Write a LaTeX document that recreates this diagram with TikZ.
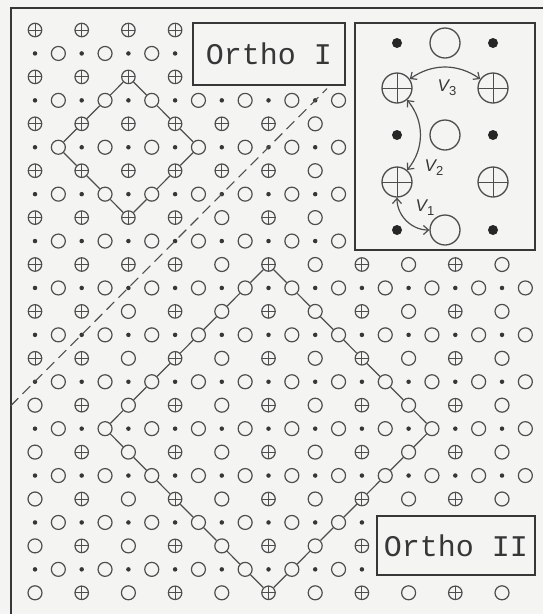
\documentclass[tikz,border=0pt]{standalone}
\usepackage{fontspec}
\usepackage{tikz}
\usetikzlibrary{arrows.meta}
\newfontfamily\monofont{Liberation Mono}
\newfontfamily\labelfont{Liberation Sans}
\definecolor{paper}{RGB}{244,244,242}
\definecolor{ink}{RGB}{78,78,78}
\definecolor{darkink}{RGB}{55,55,55}
\newcommand{\vsub}[1]{V\raisebox{-4pt}{\fontsize{13}{13}\selectfont\upshape #1}}

\begin{document}
\begin{tikzpicture}[
  x=1pt, y=-1pt,
  hole/.style={circle, draw=ink, line width=1.2pt, minimum size=14pt, inner sep=0pt},
  plus/.style={hole, minimum size=13.5pt,
               path picture={\draw[ink, line width=0.9pt]
                 (path picture bounding box.north) -- (path picture bounding box.south)
                 (path picture bounding box.west) -- (path picture bounding box.east);}},
  dot/.style={circle, fill=darkink, minimum size=4.5pt, inner sep=0pt},
  bighole/.style={hole, line width=1.3pt, minimum size=30pt},
  bigplus/.style={plus, line width=1.3pt, minimum size=30pt},
  bigdot/.style={dot, fill=black!85, minimum size=10pt},
  tag/.style={draw=darkink, line width=1.4pt, fill=paper, inner sep=0pt, text=darkink,
              font=\monofont\fontsize{30}{30}\selectfont},
  vlabel/.style={text=darkink, inner sep=0pt, font=\labelfont\itshape\fontsize{17}{17}\selectfont},
  edge/.style={draw=ink, line width=1.2pt},
  arrow/.style={<->, >={Straight Barb[length=5pt,width=9pt]}, draw=ink, line width=1.2pt}
]
\useasboundingbox (0,0) rectangle (543,614);
\fill[paper] (0,0) rectangle (543,614);
\draw[darkink, line width=1.4pt] (11,614) -- (11,8) -- (543,8);

% lattice
\foreach \i in {0,...,21}
  \foreach \j in {0,...,24}{
    \pgfmathtruncatemacro\hide{(\j<3 && \i>6 && \i<14) || (\j<10 && \i>13) || (\j>20 && \j<24 && \i>14)}
    \ifnum\hide=0
      \ifodd\j
        \ifodd\i \node[hole] (s-\i-\j) at ({35+23.35*\i},{30+23.45*\j}) {};
        \else \node[dot] (s-\i-\j) at ({35+23.35*\i},{30+23.45*\j}) {};
        \fi
      \else
        \ifodd\i\else
          \pgfmathtruncatemacro\two{(\i+\j>15) && (mod(\i,4)==0)}
          \ifnum\two=1 \node[hole] (s-\i-\j) at ({35+23.35*\i},{30+23.45*\j}) {};
          \else \node[plus] (s-\i-\j) at ({35+23.35*\i},{30+23.45*\j}) {};
          \fi
        \fi
      \fi
    \fi
  }

\coordinate (b1) at (10.5,406);
\coordinate (b2) at (327,88.6);
\draw[ink, line width=1.1pt, dash pattern=on 11pt off 6pt] (b1) -- (b2);

\draw[edge] (s-4-2) -- (s-5-3) -- (s-6-4) -- (s-7-5) -- (s-6-6) -- (s-5-7) -- (s-4-8)
  -- (s-3-7) -- (s-2-6) -- (s-1-5) -- (s-2-4) -- (s-3-3) -- (s-4-2);
\draw[edge] (s-10-10) -- (s-11-11) -- (s-12-12) -- (s-13-13) -- (s-14-14) -- (s-15-15)
  -- (s-16-16) -- (s-17-17) -- (s-16-18) -- (s-15-19) -- (s-14-20) -- (s-13-21)
  -- (s-12-22) -- (s-11-23) -- (s-10-24) -- (s-9-23) -- (s-8-22) -- (s-7-21)
  -- (s-6-20) -- (s-5-19) -- (s-4-18) -- (s-3-17) -- (s-4-16) -- (s-5-15)
  -- (s-6-14) -- (s-7-13) -- (s-8-12) -- (s-9-11) -- (s-10-10);

\node[tag, minimum width=152pt, minimum height=62pt] (one) at (269,54) {Ortho I};
\node[tag, minimum width=158pt, minimum height=59pt] (two) at (456,545.5) {Ortho II};

% inset
\node[draw=darkink, line width=1.4pt, fill=paper, minimum width=180pt, minimum height=227pt] (inset) at (445,136.5) {};
\node[bigdot] (w-1-1) at (397,43) {};
\node[bighole] (w-2-1) at (445,43) {};
\node[bigdot] (w-3-1) at (493,43) {};
\node[bigplus] (w-1-2) at (397,88) {};
\node[bigplus] (w-3-2) at (493,88) {};
\node[bigdot] (w-1-3) at (397,135) {};
\node[bighole] (w-2-3) at (445,135) {};
\node[bigdot] (w-3-3) at (493,135) {};
\node[bigplus] (w-1-4) at (397,182) {};
\node[bigplus] (w-3-4) at (493,182) {};
\node[bigdot] (w-1-5) at (397,230) {};
\node[bighole] (w-2-5) at (445,230) {};
\node[bigdot] (w-3-5) at (493,230) {};
\draw[arrow] (w-1-2) to[bend left=35] (w-3-2);
\draw[arrow] (w-1-2) to[bend left=40] (w-1-4);
\draw[arrow] (w-1-4) to[out=-90, in=180] (w-2-5);
\node[vlabel] (v3) at (447,88) {\vsub{3}};
\node[vlabel] (v2) at (434,168) {\vsub{2}};
\node[vlabel] (v1) at (425,208) {\vsub{1}};
\end{tikzpicture}
\end{document}
